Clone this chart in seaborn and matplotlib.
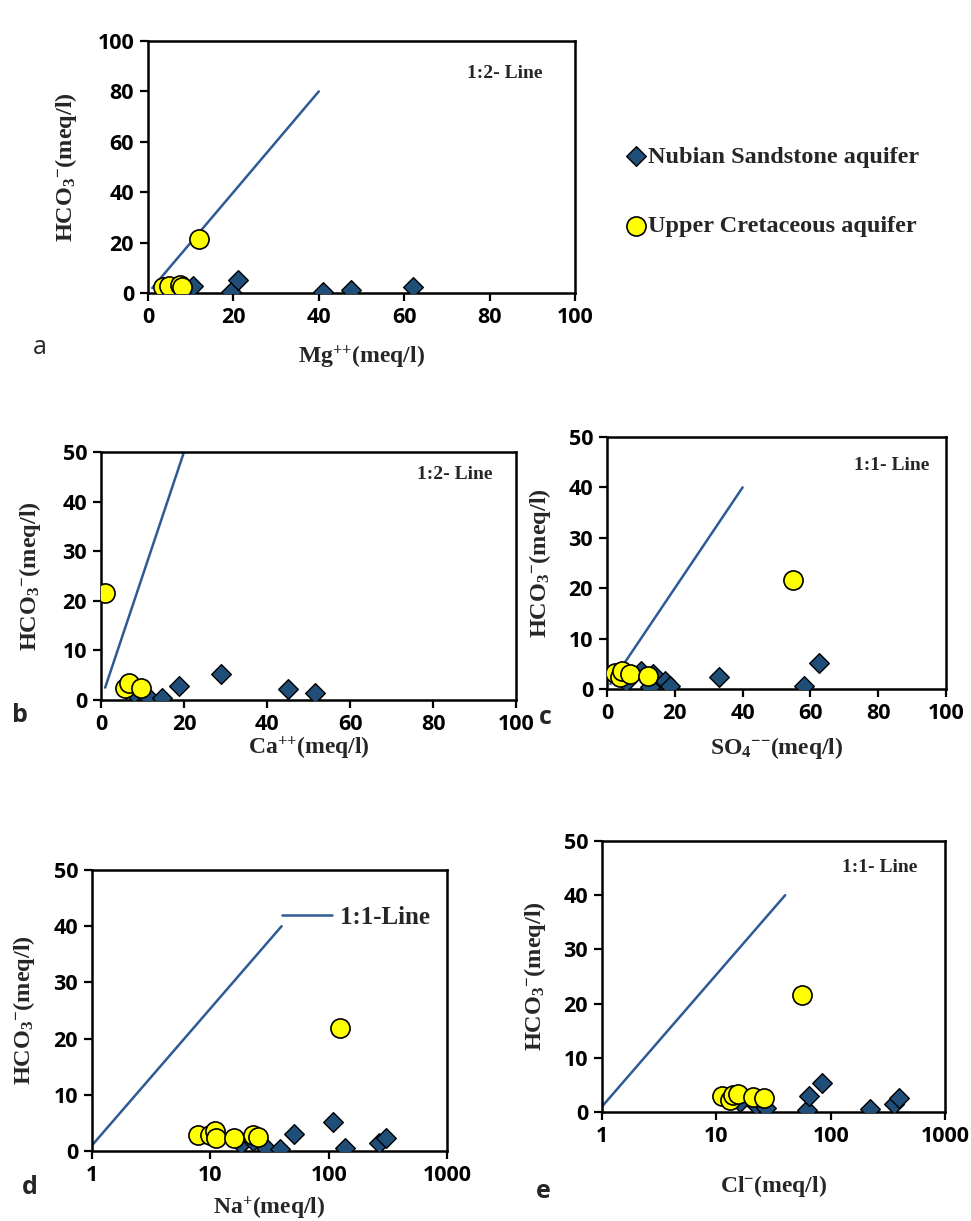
import numpy as np
import pandas as pd
import matplotlib
matplotlib.use("Agg")
import matplotlib.pyplot as plt
from matplotlib.ticker import FixedLocator, FixedFormatter, NullLocator
import seaborn as sns

# ---------------- data (meq/l) ----------------
# a: Mg vs HCO3
nub_mg = [7.0, 8.5, 10.5, 19.5, 21.0, 41.0, 47.5, 62.0]
nub_hco3_mg = [1.5, 0.5, 2.8, 0.2, 5.2, 0.4, 1.3, 2.4]
upc_mg = [3.5, 5.0, 7.5, 8.0, 12.0]
upc_hco3_mg = [2.2, 2.8, 3.3, 2.5, 21.5]

# b: Ca vs HCO3
nub_ca = [6.0, 8.0, 11.3, 14.6, 18.7, 28.8, 45.1, 51.5]
nub_hco3_ca = [2.2, 1.5, 0.6, 0.4, 2.8, 5.2, 2.3, 1.5]
upc_ca = [1.0, 5.7, 6.7, 9.7]
upc_hco3_ca = [21.6, 2.4, 3.5, 2.4]

# c: SO4 vs HCO3
nub_so4 = [5.7, 10.1, 12.6, 13.6, 17.0, 18.7, 33.1, 58.2, 62.4]
nub_hco3_so4 = [1.3, 3.5, 0.3, 2.9, 1.5, 0.65, 2.4, 0.65, 5.2]
upc_so4 = [2.3, 3.7, 4.5, 6.7, 12.1, 55.0]
upc_hco3_so4 = [3.1, 2.3, 3.6, 2.9, 2.6, 21.7]

# d: Na vs HCO3
nub_na = [18.2, 22.8, 29.5, 38.7, 51.0, 108.0, 137.0, 265.0, 305.0]
nub_hco3_na = [1.3, 1.8, 0.6, 0.3, 3.0, 5.2, 0.6, 1.4, 2.4]
upc_na = [7.9, 10.0, 10.9, 11.1, 16.0, 22.8, 25.1, 124.0]
upc_hco3_na = [2.8, 2.9, 3.5, 2.4, 2.4, 2.8, 2.5, 21.8]

# e: Cl vs HCO3
nub_cl = [16.2, 22.3, 27.2, 62.7, 64.6, 83.5, 222.0, 355.0, 393.0]
nub_hco3_cl = [1.8, 1.2, 0.8, 0.3, 2.9, 5.3, 0.6, 1.5, 2.6]
upc_cl = [11.3, 13.1, 14.0, 15.4, 21.1, 26.3, 56.7]
upc_hco3_cl = [2.9, 2.3, 3.1, 3.4, 2.8, 2.6, 21.5]

# reference lines
line_12_x = [1, 40]
line_12_y = [2, 80]
line_ca_x = [1, 40]
line_ca_y = [2.5, 100]
line_11_x = [1, 40]
line_11_y = [1, 40]

lin_ticks_x = [0, 20, 40, 60, 80, 100]
log_ticks_x = [1, 10, 100, 1000]
log_tick_labels = ["1", "10", "100", "1000"]

series_names = ["Nubian Sandstone aquifer", "Upper Cretaceous aquifer"]

# ---------------- style ----------------
sns.set_style("ticks")
plt.rcParams["font.family"] = ["Open Sans", "DejaVu Sans"]
plt.rcParams["font.weight"] = "bold"
plt.rcParams["mathtext.fontset"] = "custom"
plt.rcParams["mathtext.rm"] = "Liberation Serif:bold"
plt.rcParams["mathtext.it"] = "Liberation Serif:bold:italic"
plt.rcParams["mathtext.bf"] = "Liberation Serif:bold"

W, H = 971, 1221
fig = plt.figure(figsize=(W / 100, H / 100), dpi=100)

LINE_COL = "#2F5A94"
NUB_COL = "#1F4E79"
UPC_COL = "#FFFF00"
SERIF = "Liberation Serif"
TICK_FONT = {"family": "Open Sans", "weight": "bold", "size": 15.5}


def make_axes(left, top, right, bottom):
    return fig.add_axes([left / W, 1 - bottom / H, (right - left) / W, (bottom - top) / H])


def style_axes(ax, box, ylab_x, xlab_y, ylabel, xlabel, ytop, yticks):
    left, top, right, bottom = box
    for sp in ax.spines.values():
        sp.set_visible(True)
        sp.set_color("black")
        sp.set_linewidth(1.8)
    ax.tick_params(direction="out", length=6, width=1.6, colors="black", pad=4)
    ax.set_ylim(0, ytop)
    ax.yaxis.set_major_locator(FixedLocator(yticks))
    ax.set_ylabel(ylabel, fontsize=17.5, fontfamily=SERIF, fontweight="bold")
    ax.set_xlabel(xlabel, fontsize=17, fontfamily=SERIF, fontweight="bold")
    ax.yaxis.label.set_va("center")
    ax.xaxis.label.set_va("center")
    ax.yaxis.set_label_coords((ylab_x - left) / (right - left), 0.5)
    ax.xaxis.set_label_coords(0.5, -(xlab_y - bottom) / (bottom - top))


def bold_ticks(ax):
    for lab in ax.get_xticklabels() + ax.get_yticklabels():
        lab.set_fontproperties(TICK_FONT)


def scatter_pair(ax, nx, ny, ux, uy):
    sns.scatterplot(x=nx, y=ny, ax=ax, marker="D", s=100, color=NUB_COL,
                    edgecolor="black", linewidth=1.0, zorder=3,
                    label=series_names[0], legend=False)
    sns.scatterplot(x=ux, y=uy, ax=ax, marker="o", s=190, color=UPC_COL,
                    edgecolor="black", linewidth=1.2, zorder=4,
                    label=series_names[1], legend=False)


def ref_line(ax, x, y, label=None):
    sns.lineplot(x=x, y=y, ax=ax, color=LINE_COL, linewidth=1.8, zorder=2,
                 label=label, legend=False, sort=False)


def note(ax_px, txt):
    fig.text(ax_px[0] / W, 1 - ax_px[1] / H, txt, ha="center", va="center",
             fontsize=14, fontfamily=SERIF, fontweight="bold")


def panel_letter(x, y, txt, weight):
    fig.text(x / W, 1 - y / H, txt, fontsize=18, fontfamily="Open Sans",
             fontweight=weight, ha="center", va="center")


hco3 = r"HCO$_3$$^{-}$(meq/l)"

# ---------------- panel a ----------------
box_a = (148, 41, 575, 293)
ax_a = make_axes(*box_a)
ref_line(ax_a, line_12_x, line_12_y)
scatter_pair(ax_a, nub_mg, nub_hco3_mg, upc_mg, upc_hco3_mg)
ax_a.set_xlim(0, 100)
ax_a.xaxis.set_major_locator(FixedLocator(lin_ticks_x))
style_axes(ax_a, box_a, 66, 357, hco3, r"Mg$^{{+}{+}}$(meq/l)", 100, [0, 20, 40, 60, 80, 100])
note((505, 73), "1:2- Line")
handles, labels = ax_a.get_legend_handles_labels()
keep = [(h, l) for h, l in zip(handles, labels) if l in series_names]
leg = fig.legend([k[0] for k in keep], [k[1] for k in keep],
                 loc="upper left", bbox_to_anchor=(614 / W, 1 - 136 / H),
                 frameon=False, handletextpad=0.0, labelspacing=1.95,
                 handlelength=1.0, borderaxespad=0,
                 prop={"family": SERIF, "weight": "bold", "size": 17.5})
panel_letter(40, 348, "a", "normal")

# ---------------- panel b ----------------
box_b = (101, 452, 516, 700)
ax_b = make_axes(*box_b)
ref_line(ax_b, line_ca_x, line_ca_y)
scatter_pair(ax_b, nub_ca, nub_hco3_ca, upc_ca, upc_hco3_ca)
ax_b.set_xlim(0, 100)
ax_b.xaxis.set_major_locator(FixedLocator(lin_ticks_x))
style_axes(ax_b, box_b, 30, 748, hco3, r"Ca$^{{+}{+}}$(meq/l)", 50, [0, 10, 20, 30, 40, 50])
note((455, 475), "1:2- Line")
panel_letter(20, 716, "b", "bold")

# ---------------- panel c ----------------
box_c = (607, 437, 946, 689)
ax_c = make_axes(*box_c)
ref_line(ax_c, line_11_x, line_11_y)
scatter_pair(ax_c, nub_so4, nub_hco3_so4, upc_so4, upc_hco3_so4)
ax_c.set_xlim(0, 100)
ax_c.xaxis.set_major_locator(FixedLocator(lin_ticks_x))
style_axes(ax_c, box_c, 540, 748, hco3, r"SO$_4$$^{{-}{-}}$(meq/l)", 50, [0, 10, 20, 30, 40, 50])
note((892, 465), "1:1- Line")
panel_letter(545, 717, "c", "bold")

# ---------------- panel d ----------------
box_d = (92, 870, 447, 1151)
ax_d = make_axes(*box_d)
ref_line(ax_d, line_11_x, line_11_y, label="1:1-Line")
scatter_pair(ax_d, nub_na, nub_hco3_na, upc_na, upc_hco3_na)
ax_d.set_xscale("log")
ax_d.set_xlim(1, 1000)
ax_d.xaxis.set_major_locator(FixedLocator(log_ticks_x))
ax_d.xaxis.set_major_formatter(FixedFormatter(log_tick_labels))
ax_d.xaxis.set_minor_locator(NullLocator())
style_axes(ax_d, box_d, 24, 1208, hco3, r"Na$^{+}$(meq/l)", 50, [0, 10, 20, 30, 40, 50])
lh, ll = ax_d.get_legend_handles_labels()
line_h = [h for h, l in zip(lh, ll) if l == "1:1-Line"]
ax_d.legend(line_h, ["1:1-Line"], loc="upper right", bbox_to_anchor=(1.0, 0.935),
            frameon=False, handlelength=2.0, handletextpad=0.3, borderaxespad=0.3,
            prop={"family": SERIF, "weight": "bold", "size": 18})
panel_letter(30, 1187, "d", "bold")

# ---------------- panel e ----------------
box_e = (602, 841, 945, 1112)
ax_e = make_axes(*box_e)
ref_line(ax_e, line_11_x, line_11_y)
scatter_pair(ax_e, nub_cl, nub_hco3_cl, upc_cl, upc_hco3_cl)
ax_e.set_xscale("log")
ax_e.set_xlim(1, 1000)
ax_e.xaxis.set_major_locator(FixedLocator(log_ticks_x))
ax_e.xaxis.set_major_formatter(FixedFormatter(log_tick_labels))
ax_e.xaxis.set_minor_locator(NullLocator())
style_axes(ax_e, box_e, 535, 1186, hco3, r"Cl$^{-}$(meq/l)", 50, [0, 10, 20, 30, 40, 50])
note((880, 868), "1:1- Line")
panel_letter(543, 1192, "e", "bold")

for ax in (ax_a, ax_b, ax_c, ax_d, ax_e):
    bold_ticks(ax)

fig.savefig("out.png", dpi=100, facecolor="white")
